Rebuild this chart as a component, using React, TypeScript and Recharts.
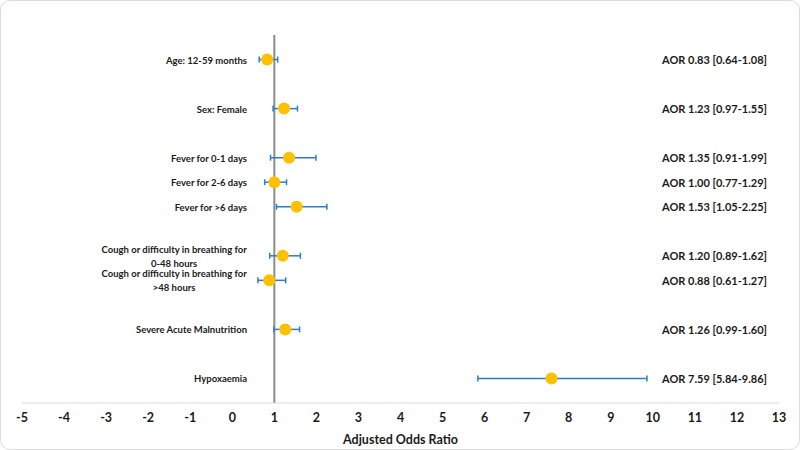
import React from "react";
import {
  ComposedChart,
  Scatter,
  ErrorBar,
  XAxis,
  YAxis,
  ReferenceLine,
} from "recharts";

// forest plot rows, top to bottom
const labels: string[][] = [
  ["Age: 12-59 months"],
  ["Sex: Female"],
  ["Fever for 0-1 days"],
  ["Fever for 2-6 days"],
  ["Fever for >6 days"],
  ["Cough or difficulty in breathing for", "0-48 hours"],
  ["Cough or difficulty in breathing for", ">48 hours"],
  ["Severe Acute Malnutrition"],
  ["Hypoxaemia"],
];
const rows = [1, 3, 5, 6, 7, 9, 10, 12, 14];
const aor = [0.83, 1.23, 1.35, 1.0, 1.53, 1.2, 0.88, 1.26, 7.59];
const ciLow = [0.64, 0.97, 0.91, 0.77, 1.05, 0.89, 0.61, 0.99, 5.84];
const ciHigh = [1.08, 1.55, 1.99, 1.29, 2.25, 1.62, 1.27, 1.6, 9.86];
const xTicks = [-5, -4, -3, -2, -1, 0, 1, 2, 3, 4, 5, 6, 7, 8, 9, 10, 11, 12, 13];

const FONT = "Lato, 'Open Sans', sans-serif";
const LABEL_SIZE = 9.5;

const data = rows.map((r, i) => ({
  row: r,
  aor: aor[i],
  err: [aor[i] - ciLow[i], ciHigh[i] - aor[i]],
}));

const rowIndex = (v: number) => rows.indexOf(v);

let ctx: CanvasRenderingContext2D | null = null;
function textWidth(s: string) {
  if (!ctx) ctx = document.createElement("canvas").getContext("2d");
  if (!ctx) return s.length * 4;
  ctx.font = `700 ${LABEL_SIZE}px ${FONT}`;
  return ctx.measureText(s).width;
}

// row label on the left, AOR text on the right, both from the same tick
const renderRowTick = ({ x, y, payload }: any) => {
  const i = rowIndex(payload.value);
  const lines = labels[i] || [];
  const lh = 14;
  const y0 = y - ((lines.length - 1) * lh) / 2;
  const right = x + 231;
  // wrapped labels are centred as a block that ends at the right edge
  const multi = lines.length > 1;
  const blockW = multi ? Math.max(...lines.map(textWidth)) : 0;
  const lx = multi ? right - blockW / 2 : right;
  const aorTxt = `AOR ${aor[i].toFixed(2)} [${ciLow[i].toFixed(2)}-${ciHigh[i].toFixed(2)}]`;
  return (
    <g key={`t-${payload.value}`}>
      <text
        x={lx}
        y={y0}
        textAnchor={multi ? "middle" : "end"}
        dominantBaseline="central"
        fontFamily={FONT}
        fontWeight={700}
        fontSize={LABEL_SIZE}
        fill="#1a1a1a"
      >
        {lines.map((l, k) => (
          <tspan key={k} x={lx} dy={k === 0 ? 0 : lh}>
            {l}
          </tspan>
        ))}
      </text>
      <text
        x={x + 646}
        y={y}
        textAnchor="start"
        dominantBaseline="central"
        fontFamily={FONT}
        fontWeight={700}
        fontSize={11}
        fill="#1a1a1a"
      >
        {aorTxt}
      </text>
    </g>
  );
};

const Dot = (props: any) => (
  <circle cx={props.cx} cy={props.cy} r={6} fill="#FFC000" />
);

export default function App() {
  return (
    <div
      style={{
        position: "absolute",
        left: 0,
        top: 0,
        width: 798,
        height: 448,
        border: "1px solid #dcdcdc",
        borderRadius: 10,
        background: "#fff",
      }}
    >
      <div style={{ position: "absolute", left: -1, top: -1 }}>
        <ComposedChart
          width={800}
          height={450}
          data={data}
          margin={{ top: 35, right: 21, left: 21, bottom: 0 }}
        >
          <XAxis
            type="number"
            dataKey="aor"
            domain={[-5, 13]}
            ticks={xTicks}
            interval={0}
            allowDataOverflow
            height={47}
            tickLine={false}
            tickMargin={4}
            axisLine={{ stroke: "#d9d9d9", strokeWidth: 1 }}
            tick={{ fill: "#1a1a1a", fontSize: 12.5, fontWeight: 700, fontFamily: FONT }}
            label={{
              value: "Adjusted Odds Ratio",
              position: "insideBottom",
              offset: 6,
              fill: "#1a1a1a",
              fontSize: 12.5,
              fontWeight: 700,
              fontFamily: FONT,
            }}
          />
          <YAxis
            type="number"
            dataKey="row"
            domain={[0, 15]}
            reversed
            ticks={rows}
            interval={0}
            width={1}
            axisLine={false}
            tickLine={false}
            tickMargin={0}
            tick={renderRowTick}
          />
          <ReferenceLine x={1} stroke="#8c8c8c" strokeWidth={2} />
          <Scatter dataKey="row" shape={<Dot />} isAnimationActive={false}>
            <ErrorBar
              dataKey="err"
              direction="x"
              width={3}
              stroke="#2F7DC4"
              strokeWidth={1.5}
              isAnimationActive={false}
            />
          </Scatter>
        </ComposedChart>
      </div>
    </div>
  );
}
